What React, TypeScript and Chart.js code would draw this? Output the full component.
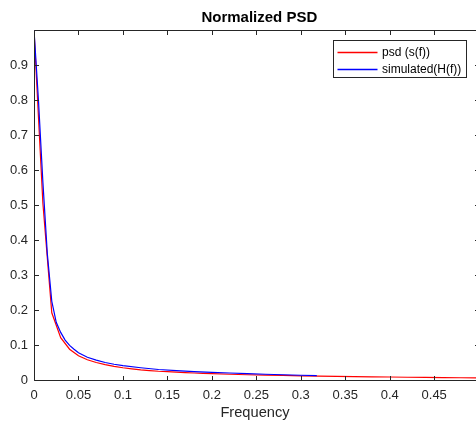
import React, { useEffect, useRef } from "react";
import { Chart, registerables } from "chart.js";

Chart.register(...registerables);

const TITLE = "Normalized PSD";
const X_LABEL = "Frequency";
const SERIES_NAMES = ["psd (s(f))", "simulated(H(f))"];

const xTicks = [0, 0.05, 0.1, 0.15, 0.2, 0.25, 0.3, 0.35, 0.4, 0.45];
const yTicks = [0, 0.1, 0.2, 0.3, 0.4, 0.5, 0.6, 0.7, 0.8, 0.9];

const psdFreq = [
  0, 0.01, 0.02, 0.03, 0.04, 0.05, 0.06, 0.07, 0.08, 0.09, 0.1, 0.11, 0.12, 0.13,
  0.14, 0.15, 0.16, 0.17, 0.18, 0.19, 0.2, 0.22, 0.24, 0.26, 0.28, 0.3, 0.32, 0.34,
  0.36, 0.38, 0.4, 0.42, 0.44, 0.46, 0.48, 0.5,
];
const psdVals = [
  1.0, 0.505, 0.192, 0.121, 0.088, 0.069, 0.058, 0.05, 0.044, 0.039, 0.035, 0.032,
  0.029, 0.027, 0.025, 0.024, 0.0225, 0.021, 0.02, 0.019, 0.018, 0.0165, 0.015,
  0.014, 0.013, 0.012, 0.011, 0.0102, 0.0095, 0.009, 0.0085, 0.0079, 0.0074,
  0.0069, 0.0064, 0.006,
];

const simFreq = [
  0, 0.005, 0.01, 0.015, 0.02, 0.025, 0.03, 0.035, 0.04, 0.045, 0.05, 0.06, 0.07,
  0.08, 0.09, 0.1, 0.12, 0.14, 0.16, 0.18, 0.2, 0.22, 0.24, 0.26, 0.28, 0.3, 0.318,
];
const simVals = [
  1.0, 0.8, 0.565, 0.36, 0.225, 0.165, 0.136, 0.114, 0.099, 0.088, 0.078, 0.065,
  0.057, 0.05, 0.045, 0.041, 0.035, 0.03, 0.027, 0.024, 0.022, 0.02, 0.018,
  0.0165, 0.015, 0.0135, 0.0125,
];

const FONT = "'Liberation Sans', Arial, Helvetica, sans-serif";
const AXIS_COLOR = "#262626";

const framePlugin = {
  id: "matlabFrame",
  afterDraw(chart: any) {
    const { ctx, chartArea: a, scales } = chart;
    const xs = scales.x;
    const ys = scales.y;
    const rightAxis = xs.getPixelForValue(0.5);
    const L = Math.round(a.left) + 0.5;
    const B = Math.round(a.bottom) + 0.5;
    const T = Math.round(a.top) + 0.5;
    const R = Math.round(rightAxis) + 0.5;
    const tl = 4.5;
    ctx.save();
    ctx.strokeStyle = AXIS_COLOR;
    ctx.lineWidth = 1;
    ctx.beginPath();
    ctx.moveTo(L, T);
    ctx.lineTo(R, T);
    ctx.moveTo(L, T);
    ctx.lineTo(L, B);
    ctx.lineTo(R, B);
    ctx.lineTo(R, T);
    for (const v of xTicks) {
      const px = Math.round(xs.getPixelForValue(v)) + 0.5;
      ctx.moveTo(px, B);
      ctx.lineTo(px, B - tl);
      ctx.moveTo(px, T);
      ctx.lineTo(px, T + tl);
    }
    for (const v of yTicks) {
      const py = Math.round(ys.getPixelForValue(v)) + 0.5;
      ctx.moveTo(L, py);
      ctx.lineTo(L + tl, py);
      ctx.moveTo(R, py);
      ctx.lineTo(R - tl, py);
    }
    ctx.stroke();

    // title
    ctx.fillStyle = "#000";
    ctx.font = `bold 15px ${FONT}`;
    ctx.textAlign = "center";
    ctx.textBaseline = "middle";
    ctx.fillText(TITLE, (a.left + rightAxis) / 2 + 3, 18);

    // legend
    const bx = Math.round(rightAxis - 146) + 0.5;
    const by = Math.round(a.top + 10) + 0.5;
    const bw = 133;
    const bh = 37;
    ctx.fillStyle = "#fff";
    ctx.fillRect(bx, by, bw, bh);
    ctx.strokeStyle = AXIS_COLOR;
    ctx.lineWidth = 1;
    ctx.strokeRect(bx, by, bw, bh);
    const colors = ["#ff0000", "#0000ff"];
    ctx.font = `12px ${FONT}`;
    ctx.textAlign = "left";
    SERIES_NAMES.forEach((name, i) => {
      const cy = by + 12 + i * 17;
      ctx.strokeStyle = colors[i];
      ctx.lineWidth = 1.5;
      ctx.beginPath();
      ctx.moveTo(bx + 4, cy);
      ctx.lineTo(bx + 44, cy);
      ctx.stroke();
      ctx.fillStyle = "#000";
      ctx.fillText(name, bx + 48.5, cy);
    });
    ctx.restore();
  },
};

export default function App() {
  const ref = useRef<HTMLCanvasElement | null>(null);
  useEffect(() => {
    document.body.style.margin = "0";
    const canvas = ref.current;
    if (!canvas) return;
    const chart = new Chart(canvas, {
      type: "line",
      data: {
        datasets: [
          {
            label: SERIES_NAMES[0],
            data: psdFreq.map((f, i) => ({ x: f, y: psdVals[i] })),
            borderColor: "#ff0000",
            borderWidth: 1.2,
            pointRadius: 0,
            tension: 0,
            order: 2,
          },
          {
            label: SERIES_NAMES[1],
            data: simFreq.map((f, i) => ({ x: f, y: simVals[i] })),
            borderColor: "#0000ff",
            borderWidth: 1.2,
            pointRadius: 0,
            tension: 0,
            order: 1,
          },
        ],
      },
      options: {
        animation: false,
        responsive: false,
        devicePixelRatio: 1,
        layout: { padding: { top: 30, left: 0, right: 0, bottom: 0 } },
        plugins: {
          legend: { display: false },
          tooltip: { enabled: false },
          title: { display: false },
        },
        scales: {
          x: {
            type: "linear",
            min: 0,
            max: 0.497,
            afterBuildTicks: (s: any) => {
              s.ticks = xTicks.map((v) => ({ value: v }));
            },
            afterFit: (s: any) => {
              s.height = 44;
            },
            grid: { display: false, drawTicks: false },
            border: { display: false },
            ticks: {
              padding: 8,
              color: AXIS_COLOR,
              font: { family: FONT, size: 13 },
              maxRotation: 0,
              autoSkip: false,
              callback: (v: any) => String(v),
            },
            title: {
              display: true,
              text: X_LABEL,
              color: AXIS_COLOR,
              font: { family: FONT, size: 14.67 },
              padding: { top: 0, bottom: 2 },
            },
          },
          y: {
            type: "linear",
            min: 0,
            max: 1,
            afterBuildTicks: (s: any) => {
              s.ticks = yTicks.map((v) => ({ value: v }));
            },
            afterFit: (s: any) => {
              s.width = 34;
            },
            grid: { display: false, drawTicks: false },
            border: { display: false },
            ticks: {
              padding: 6,
              color: AXIS_COLOR,
              font: { family: FONT, size: 13 },
              autoSkip: false,
              callback: (v: any) => String(v),
            },
          },
        },
      },
      plugins: [framePlugin],
    });
    return () => chart.destroy();
  }, []);
  return (
    <div style={{ width: 476, height: 424 }}>
      <canvas ref={ref} width={476} height={424} style={{ display: "block" }} />
    </div>
  );
}
